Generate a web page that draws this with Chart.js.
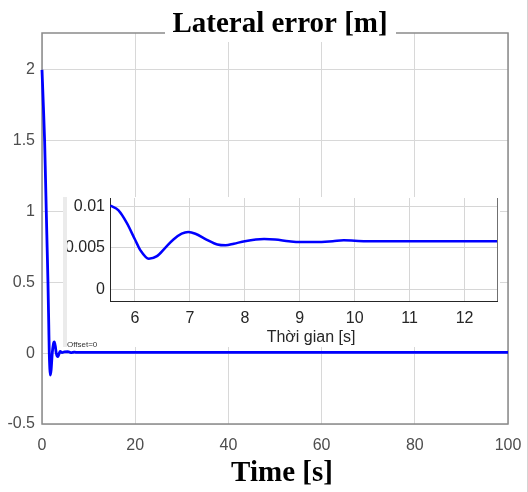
<!DOCTYPE html>
<html>
<head>
<meta charset="utf-8">
<script src="https://cdn.jsdelivr.net/npm/chart.js@4.4.1/dist/chart.umd.min.js"></script>
<style>
  html, body { margin: 0; padding: 0; background: #fff; }
  #wrap { position: relative; width: 528px; height: 492px; overflow: hidden; }
  #main { position: absolute; left: 0; top: 0; }
  #inset-box { position: absolute; left: 63px; top: 197px; width: 433px; height: 150px; background: #fff; border-left: 4px solid #ebebeb; }
  #inset { position: absolute; left: 0; top: 0; }
  #offset { position: absolute; left: 67px; top: 340px; font: 8px "Liberation Sans", Arial, sans-serif; color: #333; }
  #edge { position: absolute; left: 527px; top: 0; width: 1px; height: 492px; background: #d4d4d4; }
</style>
</head>
<body>
<div id="wrap">
  <canvas id="main" width="528" height="492"></canvas>
  <div id="inset-box"><canvas id="inset" width="433" height="150"></canvas></div>
  <div id="offset">Offset=0</div>
  <div id="edge"></div>
</div>
<script>
"use strict";
// transient part, 0..5 s
const mainTime = [0, 0.3, 0.56, 0.75, 0.92, 1.1, 1.28, 1.45, 1.56, 1.68, 1.78, 1.95, 2.2, 2.45, 2.64, 2.85, 3.06, 3.4, 3.65, 3.9, 4.3, 4.8];
const mainErr = [2.0, 1.74, 1.5, 1.24, 1.0, 0.75, 0.5, 0.2, 0.0, -0.11, -0.155, -0.12, 0.0, 0.065, 0.08, 0.05, 0.0, -0.025, -0.005, 0.012, 0.004, 0.009];
// zoomed part shown in the inset
const zoomTime = [5.55, 5.7, 5.85, 6.0, 6.1, 6.25, 6.4, 6.55, 6.7, 6.85, 6.97, 7.1, 7.3, 7.5, 7.65, 7.8, 8.0, 8.2, 8.35, 8.55, 8.8, 9.0, 9.3, 9.6, 9.8, 10.2, 11.0, 12.0, 12.6];
const zoomErr = [0.0101, 0.0095, 0.0080, 0.0060, 0.0047, 0.0037, 0.0040, 0.0050, 0.0060, 0.0067, 0.0069, 0.0067, 0.0060, 0.0054, 0.0053, 0.0055, 0.0058, 0.0060, 0.00605, 0.0060, 0.0058, 0.0057, 0.0057, 0.0058, 0.0059, 0.0058, 0.0058, 0.0058, 0.0058];
const tailTime = [100];
const tailErr = [0.0058];

const timeTicks = [0, 20, 40, 60, 80, 100];
const errTicks = [-0.5, 0, 0.5, 1, 1.5, 2];
const zoomTimeTicks = [6, 7, 8, 9, 10, 11, 12];
const zoomErrTicks = [0, 0.005, 0.01];

const titleText = "Lateral error [m]";
const xTitleText = "Time [s]";
const zoomXTitleText = "Thời gian [s]";

const toPoints = (xs, ys) => xs.map((x, i) => ({ x: x, y: ys[i] }));
const fixTicks = (vals) => (scale) => { scale.ticks = vals.map((v) => ({ value: v })); };
const noPad = (size, key) => (scale) => {
    scale[key] = size;
    scale.paddingTop = 0; scale.paddingBottom = 0; scale.paddingLeft = 0; scale.paddingRight = 0;
};

const mainDecor = {
    id: "mainDecor",
    beforeDatasetsDraw(chart) {
        const { ctx, chartArea: a } = chart;
        ctx.save();
        ctx.strokeStyle = "#8a8a8a";
        ctx.lineWidth = 1.5;
        ctx.strokeRect(a.left, a.top, a.right - a.left, a.bottom - a.top);
        ctx.restore();
    },
    afterDraw(chart) {
        const { ctx } = chart;
        ctx.save();
        ctx.fillStyle = "#fff";
        ctx.fillRect(165, 18, 231, 24);
        ctx.fillStyle = "#000";
        ctx.font = "bold 29px 'Liberation Serif'";
        ctx.textAlign = "center";
        ctx.textBaseline = "alphabetic";
        ctx.fillText(titleText, 280, 32);
        ctx.fillText(xTitleText, 282, 481);
        ctx.restore();
    }
};

const insetDecor = {
    id: "insetDecor",
    afterDraw(chart) {
        const { ctx, chartArea: a } = chart;
        ctx.save();
        ctx.strokeStyle = "#707070";
        ctx.lineWidth = 1;
        ctx.beginPath();
        ctx.moveTo(a.right + 0.5, a.top);
        ctx.lineTo(a.right + 0.5, a.bottom);
        ctx.stroke();
        ctx.fillStyle = "#262626";
        ctx.font = "16px 'Liberation Sans'";
        ctx.textAlign = "center";
        ctx.textBaseline = "middle";
        ctx.fillText(zoomXTitleText, 244, 141);
        ctx.restore();
    }
};

const mainConfig = {
    type: "line",
    data: {
        datasets: [{
            data: toPoints(mainTime.concat(zoomTime, tailTime), mainErr.concat(zoomErr, tailErr)),
            borderColor: "#0000ff",
            borderWidth: 2.8,
            pointRadius: 0,
            cubicInterpolationMode: "monotone",
            clip: 4,
        }],
    },
    options: {
        responsive: false,
        animation: false,
        layout: { padding: { left: 0, right: 20, top: 33, bottom: 0 } },
        plugins: { legend: { display: false }, tooltip: { enabled: false } },
        scales: {
            x: {
                type: "linear",
                min: 0,
                max: 100,
                afterBuildTicks: fixTicks(timeTicks),
                afterFit: noPad(68, "height"),
                grid: { color: "#d8d8d8", drawTicks: false },
                border: { display: false },
                ticks: { padding: 12, color: "#4d4d4d", maxRotation: 0, font: { family: "Liberation Sans", size: 16 } },
            },
            y: {
                type: "linear",
                min: -0.5,
                max: 2.26,
                afterBuildTicks: fixTicks(errTicks),
                afterFit: noPad(42, "width"),
                grid: { color: "#d8d8d8", drawTicks: false },
                border: { display: false },
                ticks: { padding: 7, color: "#4d4d4d", font: { family: "Liberation Sans", size: 16 }, callback: (v) => String(v) },
            },
        },
    },
    plugins: [mainDecor],
};

const insetConfig = {
    type: "line",
    data: {
        datasets: [{
            data: toPoints(zoomTime, zoomErr),
            borderColor: "#0000ff",
            borderWidth: 2.5,
            pointRadius: 0,
            cubicInterpolationMode: "monotone",
        }],
    },
    options: {
        responsive: false,
        animation: false,
        layout: { padding: { left: 0, right: 3, top: 1, bottom: 0 } },
        plugins: { legend: { display: false }, tooltip: { enabled: false } },
        scales: {
            x: {
                type: "linear",
                min: 5.545,
                max: 12.59,
                afterBuildTicks: fixTicks(zoomTimeTicks),
                afterFit: noPad(46, "height"),
                grid: { color: "#d6d6d6", drawTicks: false },
                border: { display: true, color: "#262626", width: 1 },
                ticks: { padding: 8, color: "#262626", maxRotation: 0, font: { family: "Liberation Sans", size: 16 } },
            },
            y: {
                type: "linear",
                min: -0.0014,
                max: 0.011,
                afterBuildTicks: fixTicks(zoomErrTicks),
                afterFit: noPad(43, "width"),
                grid: { color: "#d6d6d6", drawTicks: false },
                border: { display: true, color: "#262626", width: 1 },
                ticks: { padding: 5, color: "#262626", font: { family: "Liberation Sans", size: 16 }, callback: (v) => String(v) },
            },
        },
    },
    plugins: [insetDecor],
};

new Chart(document.getElementById("main"), mainConfig);
new Chart(document.getElementById("inset"), insetConfig);
</script>
</body>
</html>
